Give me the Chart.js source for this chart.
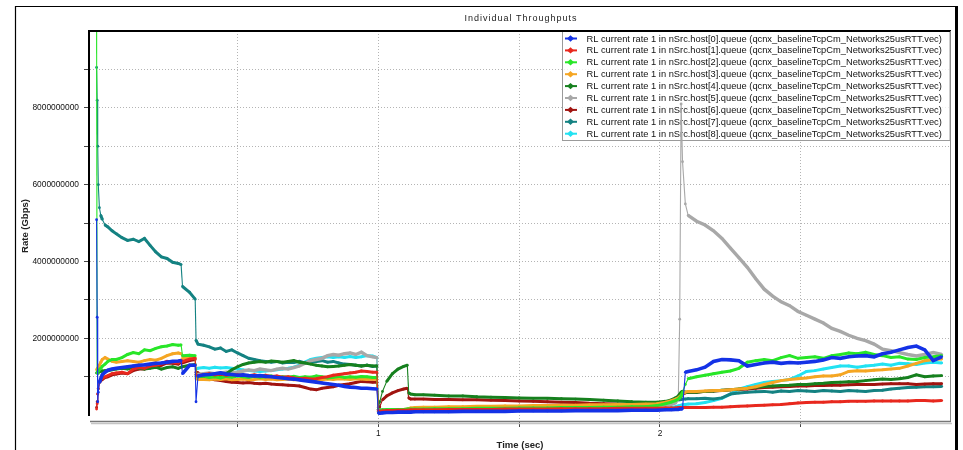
<!DOCTYPE html>
<html>
<head>
<meta charset="utf-8">
<script src="https://cdn.jsdelivr.net/npm/chart.js@4.4.1/dist/chart.umd.min.js"></script>
<style>
  html, body { margin: 0; padding: 0; background: #ffffff; }
  canvas { display: block; }
</style>
</head>
<body>
<canvas id="chart" width="963" height="450"></canvas>
<script>
// Sample times (s), shared by every host trace
const times = [
  0, 0.002, 0.004, 0.006, 0.01, 0.015, 0.02, 0.03, 0.04, 0.055,
  0.07, 0.09, 0.11, 0.13, 0.15, 0.17, 0.19, 0.21, 0.23, 0.25, 0.27, 0.29,
  0.3, 0.305, 0.33, 0.35, 0.353, 0.36,
  0.38, 0.4, 0.42, 0.44, 0.46, 0.48, 0.5, 0.52, 0.54, 0.56, 0.58, 0.6, 0.62, 0.64, 0.66,
  0.68, 0.7, 0.72, 0.74, 0.76, 0.78, 0.8, 0.82, 0.84, 0.86, 0.88, 0.9, 0.92, 0.94, 0.96, 0.98,
  0.995, 1.0, 1.005, 1.015, 1.03, 1.05, 1.07, 1.09, 1.103, 1.108, 1.115, 1.13,
  1.16, 1.2, 1.25, 1.3, 1.35, 1.4, 1.45, 1.5, 1.55, 1.6, 1.65, 1.7, 1.75, 1.8, 1.85, 1.9, 1.95,
  1.99, 2.02, 2.04, 2.055, 2.065, 2.07, 2.075, 2.08, 2.09, 2.1,
  2.13, 2.16, 2.19, 2.22, 2.25, 2.28, 2.31, 2.34, 2.37, 2.4, 2.43, 2.46, 2.49, 2.52, 2.55,
  2.58, 2.61, 2.64, 2.67, 2.7, 2.73, 2.76, 2.79, 2.82, 2.85, 2.88, 2.91, 2.94, 2.97, 3.0
];

// Rate of each host queue, in Gbit/s (null = no sample yet)
const host0 = [
  5.09, 2.55, 0.35, 0.6, 0.85, 0.95, 1.05, 1.12, 1.17, 1.2,
  1.22, 1.24, 1.26, 1.28, 1.3, 1.31, 1.33, 1.35, 1.36, 1.38, 1.4, 1.41,
  1.42, 1.08, 1.3, 1.3, 0.35, 1.02,
  1.05, 1.06, 1.08, 1.1, 1.07, 1.06, 1.04, 1.05, 1.03, 1.02, 1.03, 1.01, 1.0, 0.98, 0.97,
  0.95, 0.94, 0.92, 0.9, 0.88, 0.86, 0.84, 0.82, 0.8, 0.78, 0.75, 0.73, 0.72, 0.7, 0.7, 0.69,
  0.68, 0.06, 0.05, 0.06, 0.07, 0.07, 0.08, 0.08, 0.08, 0.08, 0.08, 0.09,
  0.09, 0.09, 0.09, 0.1, 0.1, 0.1, 0.1, 0.11, 0.11, 0.11, 0.11, 0.12, 0.12, 0.12, 0.12, 0.13, 0.13,
  0.13, 0.14, 0.14, 0.15, 0.15, 0.16, 0.16, 0.17, 1.12, 1.14,
  1.18, 1.25, 1.4, 1.45, 1.44, 1.42, 1.28, 1.32, 1.36, 1.38, 1.35, 1.37, 1.36, 1.38, 1.4,
  1.44, 1.5, 1.48, 1.52, 1.54, 1.55, 1.52, 1.6, 1.64, 1.7, 1.76, 1.8, 1.7, 1.42, 1.52
];
const host1 = [
  0.16, 0.3, 0.55, 0.7, 0.88, 0.93, 0.96, 1.0, 1.03, 1.08,
  1.1, 1.12, 1.08, 1.2, 1.24, 1.22, 1.28, 1.3, 1.34, 1.4, 1.38, 1.36,
  1.42, 1.4, 1.46, 1.48, 1.05, 1.02,
  1.06, 1.08, 1.05, 1.07, 1.04, 1.06, 1.05, 1.04, 1.03, 1.05, 1.02, 1.04, 1.01, 1.02, 0.99,
  1.0, 0.97, 0.95, 0.96, 0.94, 0.95, 0.98, 1.0, 1.04, 1.06, 1.08, 1.1, 1.12, 1.15, 1.14, 1.12,
  1.12, 0.12, 0.1, 0.11, 0.12, 0.12, 0.13, 0.13, 0.13, 0.13, 0.14, 0.14,
  0.14, 0.14, 0.15, 0.15, 0.15, 0.15, 0.16, 0.16, 0.16, 0.16, 0.17, 0.17, 0.17, 0.17, 0.18, 0.18, 0.18,
  0.18, 0.19, 0.19, 0.19, 0.2, 0.2, 0.2, 0.2, 0.2, 0.2,
  0.2, 0.2, 0.21, 0.21, 0.22, 0.23, 0.24, 0.25, 0.26, 0.27, 0.28, 0.3, 0.32, 0.33, 0.34,
  0.34, 0.35, 0.35, 0.36, 0.36, 0.36, 0.37, 0.37, 0.37, 0.37, 0.37, 0.38, 0.38, 0.37, 0.38
];
const host2 = [
  10.3, 1.1, 1.12, 1.15, 1.18, 1.22, 1.27, 1.33, 1.4, 1.45,
  1.45, 1.5, 1.58, 1.63, 1.6, 1.7, 1.68, 1.74, 1.78, 1.8, 1.84, 1.82,
  1.83, 1.55, 1.56, 1.55, 1.05, 1.0,
  1.02, 0.98, 1.0, 0.97, 1.01, 0.99, 1.02, 1.0, 0.98, 1.01, 0.99, 1.0, 1.02, 0.98, 1.0,
  0.99, 1.01, 0.98, 1.0, 0.99, 1.02, 1.0, 0.97, 0.99, 1.01, 0.98, 1.0, 0.99, 1.01, 1.0, 0.98,
  0.98, 0.15, 0.13, 0.14, 0.14, 0.15, 0.15, 0.15, 0.16, 0.16, 0.16, 0.16,
  0.16, 0.17, 0.17, 0.17, 0.18, 0.18, 0.18, 0.19, 0.19, 0.19, 0.2, 0.2, 0.2, 0.21, 0.21, 0.22, 0.22,
  0.25, 0.3, 0.34, 0.38, 0.42, 0.45, 0.5, 0.6, 0.8, 0.95,
  1.0, 1.04, 1.08, 1.12, 1.15, 1.22, 1.38, 1.42, 1.45, 1.42, 1.5, 1.55, 1.48, 1.5, 1.52,
  1.48, 1.55, 1.58, 1.62, 1.6, 1.64, 1.58, 1.55, 1.5, 1.52, 1.46, 1.45, 1.5, 1.52, 1.55
];
const host3 = [
  1.18, 1.2, 1.22, 1.25, 1.3, 1.38, 1.45, 1.5, 1.46, 1.4,
  1.38, 1.4, 1.42, 1.4, 1.38, 1.42, 1.45, 1.43, 1.48, 1.55, 1.6, 1.62,
  1.6, 1.48, 1.5, 1.5, 0.95, 0.93,
  0.93, 0.92, 0.94, 0.93, 0.95, 0.92, 0.93, 0.94, 0.92, 0.93, 0.95, 0.93, 0.94, 0.92, 0.93,
  0.94, 0.92, 0.93, 0.95, 0.94, 0.93, 0.92, 0.94, 0.93, 0.95, 0.94, 0.93, 0.95, 0.94, 0.93, 0.94,
  0.93, 0.1, 0.09, 0.1, 0.11, 0.12, 0.13, 0.15, 0.16, 0.17, 0.19, 0.2,
  0.21, 0.21, 0.22, 0.22, 0.23, 0.23, 0.24, 0.24, 0.25, 0.25, 0.26, 0.26, 0.27, 0.27, 0.28, 0.28, 0.29,
  0.3, 0.34, 0.38, 0.42, 0.45, 0.48, 0.52, 0.56, 0.6, 0.62,
  0.62, 0.63, 0.64, 0.64, 0.66, 0.68, 0.7, 0.74, 0.8, 0.85, 0.9, 0.93, 0.95, 0.97, 1.0,
  1.02, 1.02, 1.05, 1.14, 1.16, 1.15, 1.17, 1.18, 1.2, 1.22, 1.28, 1.35, 1.42, 1.45, 1.46
];
const host4 = [
  1.1, 1.1, 1.12, 1.12, 1.13, 1.14, 1.15, 1.16, 1.16, 1.18,
  1.2, 1.22, 1.2, 1.24, 1.22, 1.2, 1.22, 1.25, 1.2, 1.24, 1.26, 1.22,
  1.25, 1.26, 1.3, 1.32, 1.0, 0.98,
  0.98, 0.99, 1.0, 1.02, 1.08, 1.18, 1.26, 1.32, 1.36, 1.38, 1.4, 1.38, 1.41, 1.4, 1.38,
  1.4, 1.42, 1.38, 1.36, 1.33, 1.3, 1.28, 1.26, 1.27, 1.28, 1.3, 1.32, 1.3, 1.28, 1.3, 1.28,
  1.28, 0.15, 0.35, 0.62, 0.88, 1.08, 1.2, 1.27, 1.3, 0.58, 0.55, 0.53,
  0.53, 0.52, 0.5, 0.5, 0.48, 0.47, 0.46, 0.45, 0.44, 0.44, 0.43, 0.42, 0.41, 0.39, 0.37, 0.35, 0.34,
  0.34, 0.36, 0.4, 0.45, 0.5, 0.55, 0.6, 0.62, 0.6, 0.6,
  0.6, 0.62, 0.63, 0.65, 0.66, 0.68, 0.7, 0.73, 0.75, 0.76, 0.77, 0.78, 0.8, 0.8, 0.82,
  0.83, 0.85, 0.86, 0.87, 0.88, 0.9, 0.92, 0.94, 0.93, 0.95, 0.98, 1.05, 1.0, 1.02, 1.03
];
const host5 = [
  null, null, null, null, null, null, null, null, null, null,
  null, null, null, null, null, null, null, null, null, null, null, null,
  null, null, null, null, 1.05, 1.06,
  1.08, 1.1, 1.08, 1.1, 1.12, 1.1, 1.12, 1.15, 1.18, 1.16, 1.2, 1.18, 1.16, 1.2, 1.22,
  1.2, 1.24, 1.28, 1.35, 1.42, 1.45, 1.48, 1.55, 1.58, 1.56, 1.6, 1.62, 1.58, 1.64, 1.55, 1.52,
  1.5, 0.14, 0.12, 0.13, 0.13, 0.14, 0.14, 0.14, 0.15, 0.15, 0.15, 0.15,
  0.15, 0.16, 0.16, 0.16, 0.17, 0.17, 0.17, 0.18, 0.18, 0.18, 0.19, 0.19, 0.19, 0.2, 0.2, 0.2, 0.21,
  0.22, 0.25, 0.28, 0.32, 0.45, 2.5, 8.1, 6.6, 5.5, 5.2,
  5.05, 4.95, 4.8, 4.6, 4.35, 4.1, 3.85, 3.55, 3.28, 3.1, 2.95, 2.85, 2.7, 2.6, 2.5,
  2.4, 2.26, 2.18, 2.08, 2.0, 1.94, 1.85, 1.72, 1.68, 1.63, 1.58, 1.54, 1.58, 1.63, 1.58
];
const host6 = [
  0.2, 0.35, 0.55, 0.68, 0.85, 0.9, 0.93, 0.98, 1.0, 1.05,
  1.07, 1.1, 1.08, 1.16, 1.2, 1.2, 1.25, 1.27, 1.3, 1.36, 1.35, 1.33,
  1.38, 1.36, 1.42, 1.45, 1.12, 1.1,
  1.0, 0.95, 0.92, 0.9, 0.88, 0.86, 0.85, 0.84, 0.85, 0.83, 0.82, 0.83, 0.81, 0.8, 0.79,
  0.78, 0.77, 0.76, 0.72, 0.68, 0.66, 0.7, 0.72, 0.74, 0.78, 0.8, 0.82, 0.85, 0.88, 0.87, 0.86,
  0.86, 0.15, 0.22, 0.4, 0.5, 0.58, 0.64, 0.68, 0.7, 0.45, 0.42, 0.42,
  0.42, 0.41, 0.41, 0.4, 0.4, 0.39, 0.38, 0.37, 0.36, 0.35, 0.34, 0.33, 0.31, 0.3, 0.29, 0.28, 0.27,
  0.27, 0.3, 0.34, 0.38, 0.42, 0.46, 0.5, 0.55, 0.58, 0.6,
  0.6, 0.62, 0.63, 0.64, 0.66, 0.67, 0.68, 0.7, 0.72, 0.73, 0.74, 0.75, 0.76, 0.76, 0.77,
  0.77, 0.78, 0.78, 0.79, 0.8, 0.8, 0.8, 0.81, 0.82, 0.82, 0.82, 0.8, 0.81, 0.82, 0.82
];
const host7 = [
  9.05, 8.2, 7.0, 6.0, 5.4, 5.2, 5.1, 4.95, 4.9, 4.8,
  4.72, 4.62, 4.55, 4.58, 4.52, 4.6, 4.42, 4.25, 4.12, 4.08, 3.98, 3.95,
  3.92, 3.35, 3.2, 3.02, 1.95, 1.85,
  1.82, 1.78, 1.72, 1.75, 1.66, 1.7, 1.62, 1.55, 1.48, 1.45, 1.42, 1.4, 1.38, 1.4, 1.36,
  1.38, 1.37, 1.4, 1.36, 1.38, 1.4, 1.42, 1.38, 1.4, 1.36, 1.33, 1.32, 1.3, 1.28, 1.3, 1.27,
  1.28, 0.2, 0.12, 0.13, 0.14, 0.14, 0.15, 0.15, 0.15, 0.15, 0.15, 0.16,
  0.16, 0.16, 0.17, 0.17, 0.18, 0.17, 0.18, 0.18, 0.19, 0.18, 0.19, 0.19, 0.2, 0.2, 0.2, 0.21, 0.21,
  0.24, 0.3, 0.35, 0.38, 0.4, 0.4, 0.41, 0.42, 0.42, 0.43,
  0.43, 0.44, 0.42, 0.45, 0.55, 0.58, 0.6, 0.61, 0.62, 0.6, 0.63, 0.62, 0.64, 0.63, 0.62,
  0.64, 0.63, 0.62, 0.64, 0.63, 0.62, 0.64, 0.65, 0.68, 0.7, 0.72, 0.73, 0.74, 0.74, 0.75
];
const host8 = [
  null, null, null, null, null, null, null, null, null, null,
  null, null, null, null, null, null, null, null, null, null, null, null,
  null, null, null, null, 1.2, 1.22,
  1.24, 1.22, 1.25, 1.23, 1.24, 1.22, 1.2, 1.18, 1.16, 1.15, 1.14, 1.15, 1.16, 1.18, 1.2,
  1.22, 1.25, 1.3, 1.38, 1.45, 1.48, 1.5, 1.52, 1.5, 1.52, 1.5, 1.53, 1.5, 1.52, 1.55, 1.54,
  1.5, 0.1, 0.09, 0.1, 0.1, 0.11, 0.11, 0.11, 0.12, 0.12, 0.12, 0.12,
  0.12, 0.12, 0.13, 0.13, 0.13, 0.13, 0.14, 0.14, 0.14, 0.14, 0.15, 0.15, 0.15, 0.15, 0.16, 0.16, 0.16,
  0.17, 0.19, 0.2, 0.22, 0.24, 0.25, 0.26, 0.27, 0.28, 0.29,
  0.3, 0.33, 0.38, 0.44, 0.55, 0.68, 0.74, 0.8, 0.85, 0.88, 0.9, 0.93, 1.02, 1.14, 1.16,
  1.2, 1.24, 1.28, 1.28, 1.25, 1.28, 1.3, 1.33, 1.3, 1.35, 1.34, 1.32, 1.36, 1.38, 1.36
];

const seriesLabels = [
  'RL current rate 1 in nSrc.host[0].queue (qcnx_baselineTcpCm_Networks25usRTT.vec)',
  'RL current rate 1 in nSrc.host[1].queue (qcnx_baselineTcpCm_Networks25usRTT.vec)',
  'RL current rate 1 in nSrc.host[2].queue (qcnx_baselineTcpCm_Networks25usRTT.vec)',
  'RL current rate 1 in nSrc.host[3].queue (qcnx_baselineTcpCm_Networks25usRTT.vec)',
  'RL current rate 1 in nSrc.host[4].queue (qcnx_baselineTcpCm_Networks25usRTT.vec)',
  'RL current rate 1 in nSrc.host[5].queue (qcnx_baselineTcpCm_Networks25usRTT.vec)',
  'RL current rate 1 in nSrc.host[6].queue (qcnx_baselineTcpCm_Networks25usRTT.vec)',
  'RL current rate 1 in nSrc.host[7].queue (qcnx_baselineTcpCm_Networks25usRTT.vec)',
  'RL current rate 1 in nSrc.host[8].queue (qcnx_baselineTcpCm_Networks25usRTT.vec)'
];
const seriesColors = ['#1432e6', '#e8281e', '#28e628', '#f5a623', '#16801e', '#a8a8a8', '#a01410', '#148282', '#22e2f2'];
const seriesValues = [host0, host1, host2, host3, host4, host5, host6, host7, host8];

// Axis ticks: grid at every tick, text only where a label is given
const timeTicks = [0.5, 1, 1.5, 2, 2.5];
const timeTickLabels = ['', '1', '', '2', ''];
const rateTicks = [1, 2, 3, 4, 5, 6, 7, 8, 9];
const rateTickLabels = ['', '2000000000', '', '4000000000', '', '6000000000', '', '8000000000', ''];

const GBIT = 1e9;
const FONT = "'Liberation Sans', Arial, Helvetica, sans-serif";

// Near-vertical jumps between two samples are drawn as a thin connector
const stepWidth = (base) => (ctx) => {
  const dx = Math.abs(ctx.p1.x - ctx.p0.x);
  const dy = Math.abs(ctx.p1.y - ctx.p0.y);
  return dy > 1.8 * Math.max(dx, 0.1) && dy > 4 ? 1.1 : base;
};

const datasets = seriesValues.map((vals, i) => {
  const base = i === 0 ? 3.6 : (i === 5 ? 3.4 : 3);
  return {
    label: seriesLabels[i],
    data: times.map((t, k) => ({ x: t, y: vals[k] == null ? null : vals[k] * GBIT })),
    borderColor: seriesColors[i],
    backgroundColor: seriesColors[i],
    pointBackgroundColor: seriesColors[i],
    borderWidth: base,
    segment: { borderWidth: stepWidth(base) },
    pointRadius: 1.4,
    pointBorderWidth: 0,
    fill: false,
    tension: 0,
    spanGaps: false
  };
});

// Frame, title and in-plot legend of the plot window
const decorations = {
  id: 'decorations',
  beforeDraw(chart) {
    const ctx = chart.ctx;
    ctx.save();
    ctx.fillStyle = '#ffffff';
    ctx.fillRect(0, 0, chart.width, chart.height);
    // outer window border
    ctx.strokeStyle = '#000000';
    ctx.lineWidth = 1.2;
    ctx.beginPath();
    ctx.moveTo(15.5, 460);
    ctx.lineTo(15.5, 6.5);
    ctx.lineTo(955, 6.5);
    ctx.stroke();
    ctx.lineWidth = 3;
    ctx.beginPath();
    ctx.moveTo(956.5, 6);
    ctx.lineTo(956.5, 460);
    ctx.stroke();
    // title
    ctx.fillStyle = '#222222';
    ctx.font = '9px ' + FONT;
    ctx.letterSpacing = '1px';
    ctx.textAlign = 'center';
    ctx.textBaseline = 'middle';
    ctx.fillText('Individual Throughputs', 521, 18.5);
    ctx.restore();
  },
  beforeDatasetsDraw(chart) {
    const ctx = chart.ctx;
    const area = chart.chartArea;
    const left = 562.5, top = area.top, right = area.right, bottom = 140.5;
    ctx.save();
    ctx.fillStyle = 'rgba(255,255,255,0.8)';
    ctx.fillRect(left, top, right - left, bottom - top);
    ctx.strokeStyle = '#9a9a9a';
    ctx.lineWidth = 1;
    ctx.strokeRect(left, top, right - left, bottom - top);
    ctx.font = '9.3px ' + FONT;
    ctx.textAlign = 'left';
    ctx.textBaseline = 'middle';
    chart.data.datasets.forEach((ds, i) => {
      const y = 38.5 + i * 11.9;
      ctx.strokeStyle = ds.borderColor;
      ctx.lineWidth = 2;
      ctx.beginPath();
      ctx.moveTo(565, y);
      ctx.lineTo(577, y);
      ctx.stroke();
      ctx.fillStyle = ds.borderColor;
      ctx.beginPath();
      ctx.moveTo(567, y);
      ctx.lineTo(570.5, y - 3.2);
      ctx.lineTo(574, y);
      ctx.lineTo(570.5, y + 3.2);
      ctx.closePath();
      ctx.fill();
      ctx.fillStyle = '#111111';
      ctx.fillText(ds.label, 586.5, y + 0.5);
    });
    ctx.restore();
  },
  afterDraw(chart) {
    const ctx = chart.ctx;
    const a = chart.chartArea;
    ctx.save();
    ctx.strokeStyle = '#000000';
    ctx.lineWidth = 2;
    ctx.beginPath();
    ctx.moveTo(a.left - 2, a.top);
    ctx.lineTo(a.right + 1, a.top);
    ctx.stroke();
    ctx.beginPath();
    ctx.moveTo(a.left - 1, a.top);
    ctx.lineTo(a.left - 1, a.bottom - 5);
    ctx.stroke();
    ctx.strokeStyle = '#8a8a8a';
    ctx.lineWidth = 1;
    ctx.beginPath();
    ctx.moveTo(a.right + 0.5, a.top);
    ctx.lineTo(a.right + 0.5, a.bottom + 1);
    ctx.stroke();
    ctx.lineWidth = 1.5;
    ctx.strokeStyle = '#777777';
    ctx.beginPath();
    ctx.moveTo(a.left, a.bottom + 0.5);
    ctx.lineTo(a.right + 1, a.bottom + 0.5);
    ctx.stroke();
    ctx.strokeStyle = '#c4c4c4';
    ctx.lineWidth = 1.5;
    ctx.beginPath();
    ctx.moveTo(a.left + 1, a.bottom + 2.5);
    ctx.lineTo(a.right + 2, a.bottom + 2.5);
    ctx.stroke();
    ctx.restore();
  }
};

const tickFont = { family: FONT, size: 8.4 };
const axisTitleFont = { family: FONT, size: 9.5, weight: 'bold', lineHeight: 1 };

new Chart(document.getElementById('chart'), {
  type: 'line',
  data: { datasets },
  plugins: [decorations],
  options: {
    responsive: false,
    animation: false,
    devicePixelRatio: 1,
    layout: { padding: { left: 0, top: 31, right: 13, bottom: 0 } },
    plugins: {
      legend: { display: false },
      title: { display: false },
      tooltip: { enabled: false }
    },
    scales: {
      x: {
        type: 'linear',
        min: -0.0234,
        max: 3.0295,
        afterFit(scale) { scale.height = 29; },
        afterBuildTicks(scale) { scale.ticks = timeTicks.map(v => ({ value: v })); },
        grid: {
          color: '#b4b4b4', lineWidth: 1, drawTicks: true, tickLength: 6,
          tickColor: '#444444', tickWidth: 1, tickBorderDash: []
        },
        border: { display: false, dash: [1, 2] },
        ticks: {
          autoSkip: false, maxRotation: 0, minRotation: 0, padding: 2,
          color: '#111111', font: tickFont,
          callback: (v, i) => timeTickLabels[i]
        },
        title: {
          display: true, text: 'Time (sec)', color: '#222222',
          font: axisTitleFont,
          padding: { top: 0, bottom: 0 }
        }
      },
      y: {
        type: 'linear',
        min: -0.151 * GBIT,
        max: 10 * GBIT,
        afterFit(scale) { scale.width = 90; },
        afterBuildTicks(scale) { scale.ticks = rateTicks.map(v => ({ value: v * GBIT })); },
        grid: {
          color: '#b4b4b4', lineWidth: 1, drawTicks: true, tickLength: 6,
          tickColor: '#444444', tickWidth: 1, tickBorderDash: []
        },
        border: { display: false, dash: [1, 2] },
        ticks: {
          autoSkip: false, padding: 5,
          color: '#111111', font: tickFont,
          callback: (v, i) => rateTickLabels[i]
        },
        title: {
          display: true, text: 'Rate (Gbps)', color: '#222222',
          font: axisTitleFont,
          padding: { top: 21, bottom: 0 }
        }
      }
    }
  }
});
</script>
</body>
</html>
